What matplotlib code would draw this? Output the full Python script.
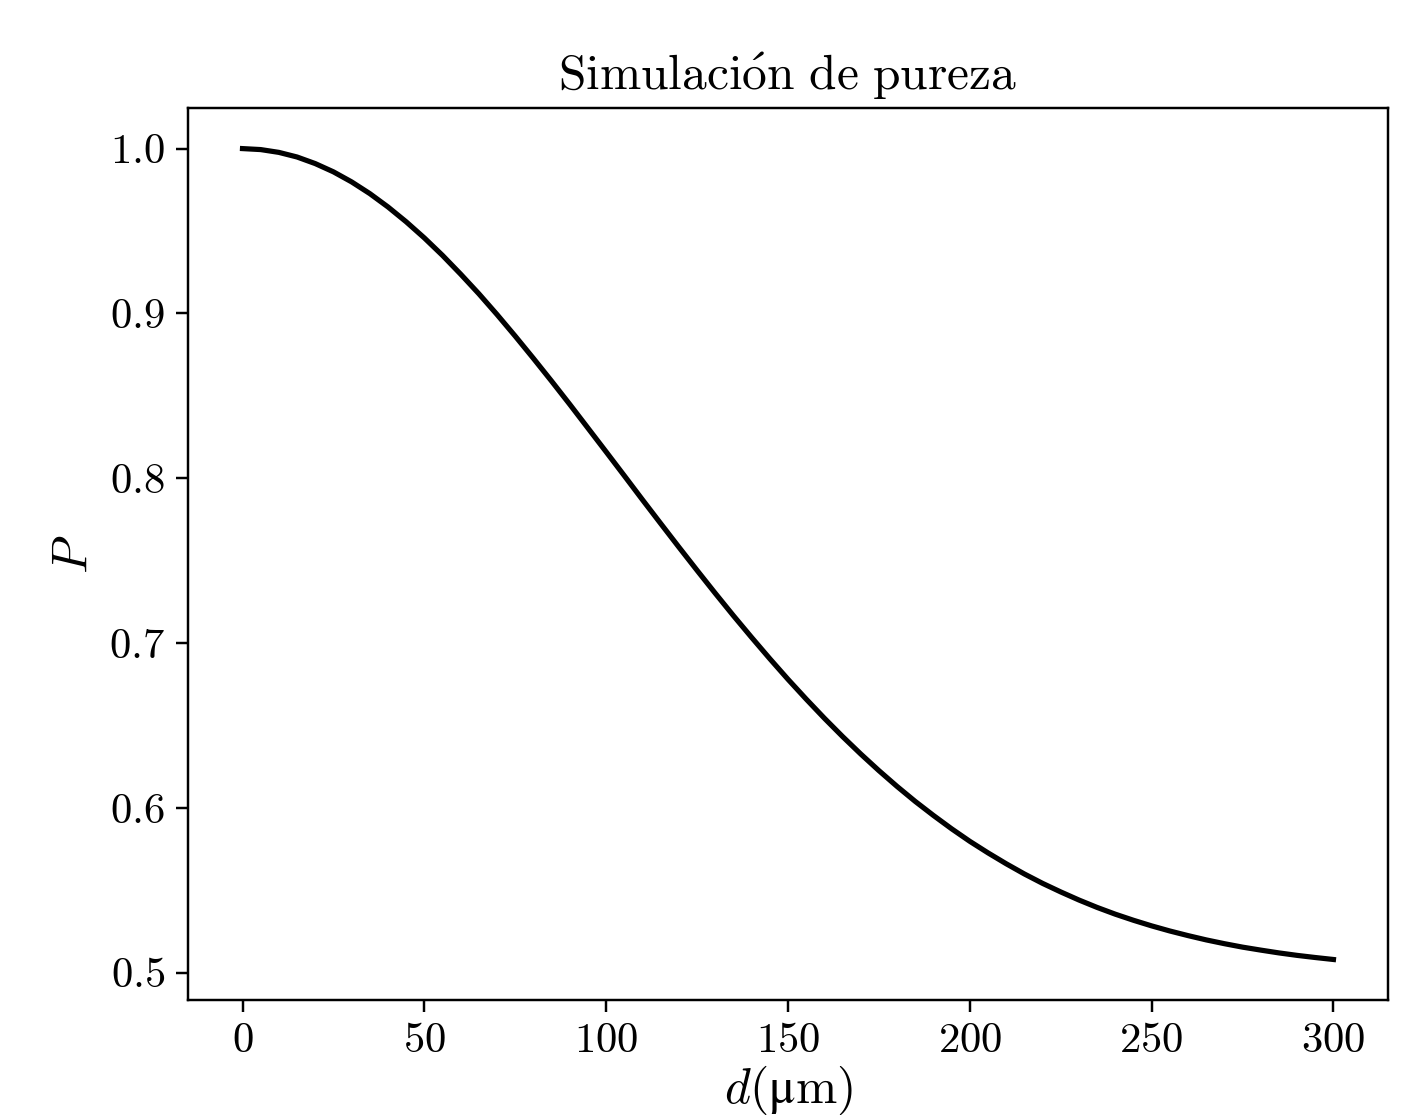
import numpy as np
import matplotlib
matplotlib.use("Agg")
import matplotlib.pyplot as plt

plt.rcParams["font.family"] = "serif"
plt.rcParams["font.serif"] = ["cmr10"]
plt.rcParams["mathtext.fontset"] = "custom"
plt.rcParams["mathtext.rm"] = "cmr10"
plt.rcParams["mathtext.it"] = "cmmi10"
plt.rcParams["mathtext.bf"] = "cmb10"
plt.rcParams["mathtext.fallback"] = "stix"
plt.rcParams["axes.formatter.use_mathtext"] = True
plt.rcParams["axes.unicode_minus"] = False

# distance (um) and purity
d_um = [0, 5, 10, 15, 20, 25, 30, 35, 40, 45, 50, 55, 60, 65, 70, 75, 80, 85,
        90, 95, 100, 105, 110, 115, 120, 125, 130, 135, 140, 145, 150, 155,
        160, 165, 170, 175, 180, 185, 190, 195, 200, 205, 210, 215, 220, 225,
        230, 235, 240, 245, 250, 255, 260, 265, 270, 275, 280, 285, 290, 295,
        300]
pureza = [1.0000, 0.9994, 0.9977, 0.9949, 0.9909, 0.9859, 0.9798, 0.9727,
          0.9646, 0.9556, 0.9458, 0.9352, 0.9238, 0.9119, 0.8993, 0.8862,
          0.8727, 0.8589, 0.8448, 0.8304, 0.8160, 0.8015, 0.7869, 0.7725,
          0.7582, 0.7441, 0.7302, 0.7166, 0.7034, 0.6905, 0.6780, 0.6660,
          0.6544, 0.6433, 0.6327, 0.6226, 0.6130, 0.6039, 0.5954, 0.5873,
          0.5797, 0.5727, 0.5661, 0.5599, 0.5542, 0.5490, 0.5441, 0.5396,
          0.5355, 0.5318, 0.5284, 0.5253, 0.5225, 0.5199, 0.5176, 0.5155,
          0.5137, 0.5120, 0.5105, 0.5092, 0.5080]

fig = plt.figure(figsize=(1410 / 220, 1115 / 220), dpi=220)
ax = fig.add_axes([0.1333, 0.1031, 0.8511, 0.8000])

ax.plot(d_um, pureza, color="black", lw=1.7)

ax.tick_params(labelsize=14, length=4)
ax.set_title(r"$\mathrm{Simulaci\acute{o}n\ de\ pureza}$", fontsize=16.2, pad=6)
ax.set_xlabel("$d(\\mathrm{\u03bcm})$", fontsize=16.2, labelpad=1)
ax.set_ylabel(r"$P$", fontsize=16.2)

fig.savefig("out.png", dpi=220)
